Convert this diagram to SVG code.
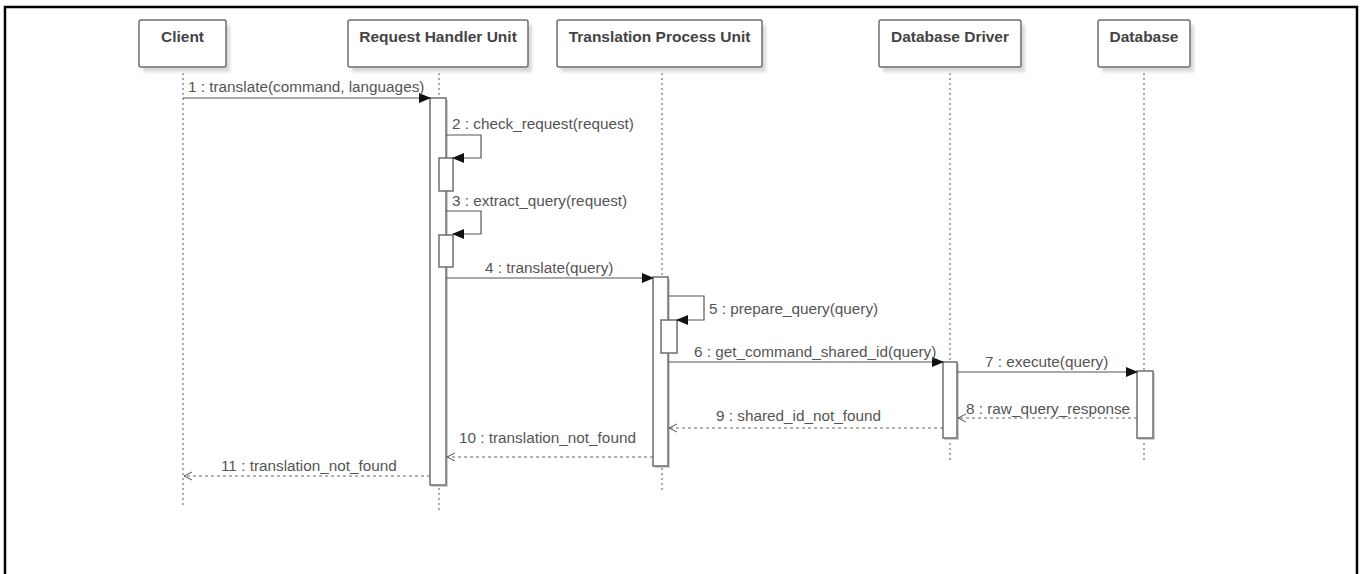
<svg xmlns="http://www.w3.org/2000/svg" width="1362" height="574" viewBox="0 0 1362 574">
  <style>
    .head { fill: #ffffff; stroke: #6e6e6e; stroke-width: 1.5; }
    .shadow { fill: #d9d9d9; filter: url(#soft); }
    .title { font-family: "Liberation Sans", Arial, sans-serif; font-size: 15.5px; font-weight: bold; fill: #444; text-anchor: middle; }
    .life { stroke: #555; stroke-width: 1; stroke-dasharray: 2 3; fill: none; }
    .act { fill: #ffffff; stroke: #6e6e6e; stroke-width: 1.5; }
    .actshadow { fill: #cfcfcf; }
    .msg { stroke: #555; stroke-width: 1.2; fill: none; }
    .ret { stroke: #666; stroke-width: 1; stroke-dasharray: 3 3; fill: none; }
    .lbl { font-family: "Liberation Sans", Arial, sans-serif; font-size: 15.3px; fill: #555; }
  </style>
  <defs>
    <filter id="soft" x="-10%" y="-10%" width="130%" height="130%">
      <feGaussianBlur stdDeviation="1.5"/>
    </filter>
    <marker id="call" markerWidth="12" markerHeight="10" refX="11" refY="5" orient="auto" markerUnits="userSpaceOnUse">
      <path d="M0,0 L12,5 L0,10 Z" fill="#111"/>
    </marker>
    <marker id="back" markerWidth="10" markerHeight="10" refX="9" refY="5" orient="auto" markerUnits="userSpaceOnUse">
      <path d="M1,1 L9,5 L1,9" fill="none" stroke="#555" stroke-width="1"/>
    </marker>
  </defs>

  <rect width="1362" height="574" fill="#ffffff"/>
  <!-- outer frame -->
  <path d="M5,574 V7 H1357 V574" fill="none" stroke="#000" stroke-width="2.5"/>

  <!-- lifelines -->
  <g id="lifelines">
    <line class="life" x1="183" y1="68" x2="183" y2="505"/>
    <line class="life" x1="439" y1="68" x2="439" y2="512"/>
    <line class="life" x1="662" y1="68" x2="662" y2="491"/>
    <line class="life" x1="950" y1="68" x2="950" y2="463"/>
    <line class="life" x1="1144" y1="68" x2="1144" y2="463"/>
  </g>

  <!-- participants -->
  <g id="client">
    <rect class="shadow" x="143" y="25" width="87" height="47"/>
    <rect class="head" x="139" y="20" width="87" height="47" rx="2"/>
    <text class="title" x="182.5" y="42">Client</text>
  </g>
  <g id="request-handler-unit">
    <rect class="shadow" x="352" y="25" width="180" height="47"/>
    <rect class="head" x="348" y="20" width="180" height="47" rx="2"/>
    <text class="title" x="438" y="42">Request Handler Unit</text>
  </g>
  <g id="translation-process-unit">
    <rect class="shadow" x="561" y="25" width="205" height="47"/>
    <rect class="head" x="557" y="20" width="205" height="47" rx="2"/>
    <text class="title" x="659.5" y="42">Translation Process Unit</text>
  </g>
  <g id="database-driver">
    <rect class="shadow" x="883" y="25" width="142" height="47"/>
    <rect class="head" x="879" y="20" width="142" height="47" rx="2"/>
    <text class="title" x="950" y="42">Database Driver</text>
  </g>
  <g id="database">
    <rect class="shadow" x="1102" y="25" width="92" height="47"/>
    <rect class="head" x="1098" y="20" width="92" height="47" rx="2"/>
    <text class="title" x="1144" y="42">Database</text>
  </g>

  <!-- activation bars -->
  <g id="activations">
    <rect class="actshadow" x="431" y="100" width="17" height="387"/>
    <rect class="act" x="430" y="98" width="16" height="387"/>
    <rect class="act" x="439" y="158" width="14" height="33"/>
    <rect class="act" x="439" y="235" width="14" height="32"/>
    <rect class="actshadow" x="654" y="279" width="16" height="189"/>
    <rect class="act" x="653" y="277" width="15" height="189"/>
    <rect class="act" x="661" y="320" width="16" height="33"/>
    <rect class="actshadow" x="944" y="364" width="15" height="76"/>
    <rect class="act" x="943" y="362" width="14" height="76"/>
    <rect class="actshadow" x="1138" y="373" width="17" height="67"/>
    <rect class="act" x="1137" y="371" width="16" height="67"/>
  </g>

  <!-- messages -->
  <g id="connectors">
    <line class="msg" x1="183" y1="98" x2="430" y2="98" marker-end="url(#call)"/>
    <text class="lbl" x="188" y="92">1 : translate(command, languages)</text>

    <polyline class="msg" points="446,135 481,135 481,158 453,158" marker-end="url(#call)"/>
    <text class="lbl" x="452" y="129">2 : check_request(request)</text>

    <polyline class="msg" points="446,211 481,211 481,234 453,234" marker-end="url(#call)"/>
    <text class="lbl" x="452" y="206">3 : extract_query(request)</text>

    <line class="msg" x1="446" y1="278" x2="653" y2="278" marker-end="url(#call)"/>
    <text class="lbl" x="485" y="273">4 : translate(query)</text>

    <polyline class="msg" points="668,296 704,296 704,320 677,320" marker-end="url(#call)"/>
    <text class="lbl" x="709" y="314">5 : prepare_query(query)</text>

    <line class="msg" x1="668" y1="362" x2="943" y2="362" marker-end="url(#call)"/>
    <text class="lbl" x="694" y="357">6 : get_command_shared_id(query)</text>

    <line class="msg" x1="957" y1="372" x2="1137" y2="372" marker-end="url(#call)"/>
    <text class="lbl" x="985" y="367">7 : execute(query)</text>

    <line class="ret" x1="1137" y1="418" x2="958" y2="418" marker-end="url(#back)"/>
    <text class="lbl" x="966" y="414">8 : raw_query_response</text>

    <line class="ret" x1="943" y1="428" x2="669" y2="428" marker-end="url(#back)"/>
    <text class="lbl" x="716" y="421">9 : shared_id_not_found</text>

    <line class="ret" x1="653" y1="457" x2="447" y2="457" marker-end="url(#back)"/>
    <text class="lbl" x="459" y="443">10 : translation_not_found</text>

    <line class="ret" x1="430" y1="476" x2="184" y2="476" marker-end="url(#back)"/>
    <text class="lbl" x="221" y="471">11 : translation_not_found</text>
  </g>
</svg>
